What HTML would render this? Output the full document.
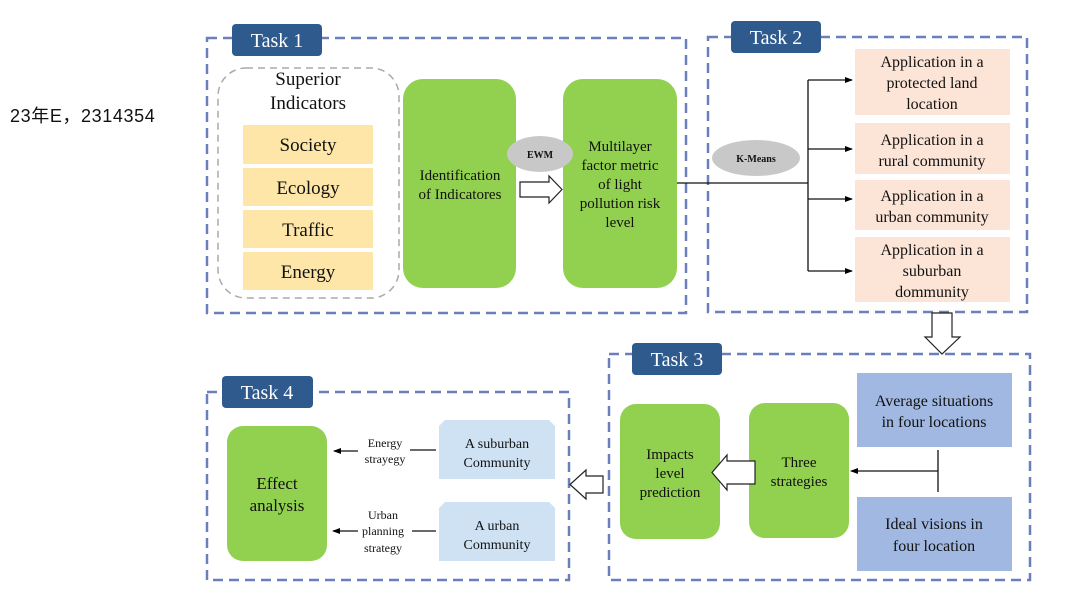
<!DOCTYPE html>
<html><head><meta charset="utf-8"><style>
body{margin:0;background:#fff;width:1080px;height:608px;overflow:hidden}
svg text{font-family:"Liberation Serif",serif;fill:#111}
</style></head><body>
<svg width="1080" height="608" viewBox="0 0 1080 608">
<defs><marker id="a" markerWidth="8" markerHeight="8" refX="7" refY="4" orient="auto" markerUnits="userSpaceOnUse"><path d="M0,1 L8,4 L0,7 Z" fill="#000"/></marker></defs>
<text x="10" y="122" style="font-family:'Liberation Sans','Noto Sans CJK SC',sans-serif;letter-spacing:0.6px" font-size="18" fill="#222">23年E，2314354</text>
<g fill="none" stroke="#6b7fba" stroke-width="2.5" stroke-dasharray="10,6">
<rect x="207" y="38" width="479" height="275"/>
<rect x="708" y="37" width="319" height="275"/>
<rect x="609" y="354" width="421" height="226"/>
<rect x="207" y="392" width="362" height="188"/>
</g>
<g fill="#2e5a8e">
<rect x="232" y="24" width="90" height="32" rx="4"/>
<rect x="731" y="21" width="90" height="32" rx="4"/>
<rect x="632" y="343" width="90" height="32" rx="4"/>
<rect x="222" y="376" width="91" height="32" rx="4"/>
</g>
<g fill="#fff" font-size="20" text-anchor="middle">
<text x="277" y="47" style="fill:#fff">Task 1</text>
<text x="776" y="44" style="fill:#fff">Task 2</text>
<text x="677" y="366" style="fill:#fff">Task 3</text>
<text x="267" y="399" style="fill:#fff">Task 4</text>
</g>
<rect x="218" y="68" width="181" height="230" rx="28" fill="none" stroke="#aaa" stroke-width="1.5" stroke-dasharray="7,5"/>
<g font-size="19" text-anchor="middle"><text x="308" y="85">Superior</text><text x="308" y="109">Indicators</text></g>
<g fill="#fde6a8"><rect x="243" y="125" width="130" height="39"/><rect x="243" y="168" width="130" height="38"/><rect x="243" y="210" width="130" height="38"/><rect x="243" y="252" width="130" height="38"/></g>
<g font-size="19" text-anchor="middle"><text x="308" y="151">Society</text><text x="308" y="194">Ecology</text><text x="308" y="236">Traffic</text><text x="308" y="278">Energy</text></g>
<g fill="#92d050">
<rect x="403" y="79" width="113" height="209" rx="20"/>
<rect x="563" y="79" width="114" height="209" rx="20"/>
<rect x="620" y="404" width="100" height="135" rx="16"/>
<rect x="749" y="403" width="100" height="135" rx="16"/>
<rect x="227" y="426" width="100" height="135" rx="16"/>
</g>
<g font-size="15" text-anchor="middle">
<text x="460" y="180">Identification</text><text x="460" y="199">of Indicatores</text>
<text x="620" y="151">Multilayer</text><text x="620" y="170">factor metric</text><text x="620" y="189">of light</text><text x="620" y="208">pollution risk</text><text x="620" y="227">level</text>
<text x="670" y="459">Impacts</text><text x="670" y="478">level</text><text x="670" y="497">prediction</text>
<text x="799" y="467">Three</text><text x="799" y="486">strategies</text>
</g>
<g font-size="17" text-anchor="middle"><text x="277" y="489">Effect</text><text x="277" y="511">analysis</text></g>
<ellipse cx="540" cy="154" rx="33" ry="18" fill="#c8c8c8"/>
<text x="540" y="158" font-size="10" font-weight="bold" text-anchor="middle">EWM</text>
<ellipse cx="756" cy="158" rx="44" ry="18" fill="#c8c8c8"/>
<text x="756" y="162" font-size="10" font-weight="bold" text-anchor="middle">K-Means</text>
<g fill="#fff" stroke="#222" stroke-width="1.2">
<path d="M520,182 H549 V176 L562,189.5 L549,203 V197 H520 Z"/>
<path d="M932,313 H952 V337 H960 L942,354 L925,337 H932 Z"/>
<path d="M755,461 V484 H727 V490 L712,472.5 L727,455 V461 Z"/>
<path d="M603,476 V493 H586 V499 L570,484.5 L586,470 V476 Z"/>
</g>
<g stroke="#111" stroke-width="1.3" fill="none">
<path d="M677,183 H808 M808,80 V271"/>
<path d="M808,80 H852" marker-end="url(#a)"/>
<path d="M808,149 H852" marker-end="url(#a)"/>
<path d="M808,199 H852" marker-end="url(#a)"/>
<path d="M808,271 H852" marker-end="url(#a)"/>
<path d="M938,450 V492"/>
<path d="M938,471 H851" marker-end="url(#a)"/>
<path d="M410,450 H436 M358,451 H334" marker-end="url(#a)"/>
<path d="M412,531 H436 M358,531 H333" marker-end="url(#a)"/>
</g>
<g fill="#fce4d6"><rect x="855" y="49" width="155" height="66"/><rect x="855" y="123" width="155" height="51"/><rect x="855" y="180" width="155" height="50"/><rect x="855" y="237" width="155" height="65"/></g>
<g font-size="16" text-anchor="middle">
<text x="932" y="67">Application in a</text><text x="932" y="88">protected land</text><text x="932" y="109">location</text>
<text x="932" y="145">Application in a</text><text x="932" y="166">rural community</text>
<text x="932" y="201">Application in a</text><text x="932" y="222">urban community</text>
<text x="932" y="255">Application in a</text><text x="932" y="276">suburban</text><text x="932" y="297">dommunity</text>
</g>
<g fill="#a0b8e2"><rect x="857" y="373" width="155" height="74"/><rect x="857" y="497" width="155" height="74"/></g>
<g font-size="16" text-anchor="middle">
<text x="934" y="406">Average situations</text><text x="934" y="427">in four locations</text>
<text x="934" y="529">Ideal visions in</text><text x="934" y="551">four location</text>
</g>
<g fill="#cfe2f3"><path d="M445,420 H549 L555,426 V479 H439 V426 Z"/><path d="M445,502 H549 L555,508 V561 H439 V508 Z"/></g>
<g font-size="14" text-anchor="middle">
<text x="497" y="448">A suburban</text><text x="497" y="467">Community</text>
<text x="497" y="530">A urban</text><text x="497" y="549">Community</text>
</g>
<g font-size="12" text-anchor="middle">
<text x="385" y="447">Energy</text><text x="385" y="463">strayegy</text>
<text x="383" y="519">Urban</text><text x="383" y="535">planning</text><text x="383" y="552">strategy</text>
</g>
</svg>
</body></html>
